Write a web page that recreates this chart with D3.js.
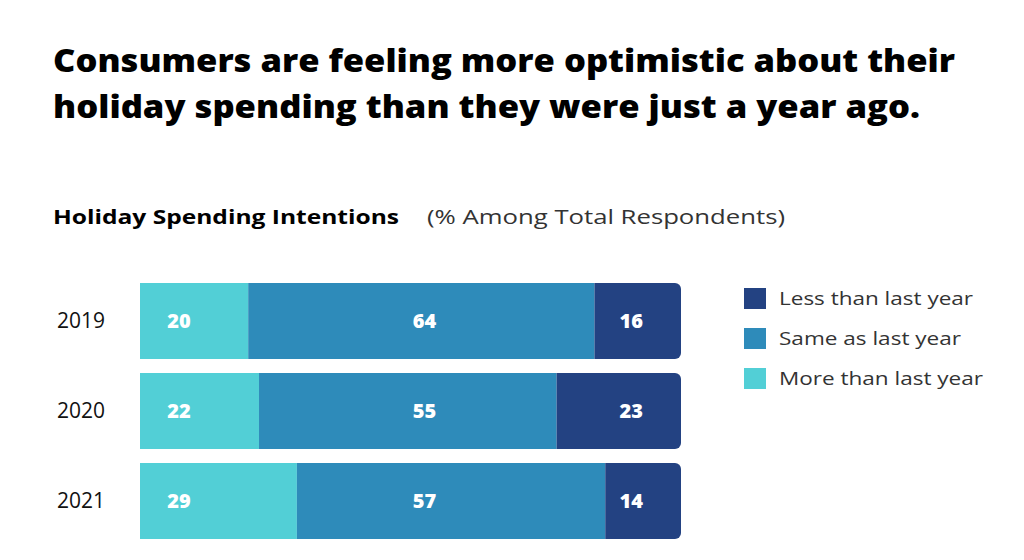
<!DOCTYPE html>
<html><head><meta charset="utf-8">
<script src="https://cdn.jsdelivr.net/npm/d3@7"></script>
<style>body{margin:0;background:#fff}text{font-family:"Open Sans",Lato,sans-serif}</style>
</head><body><svg id="c" width="1024" height="560"></svg>
<script>
const years = ["2019","2020","2021"];
const seriesNames = ["More than last year","Same as last year","Less than last year"];
const more = [20,22,29];
const same = [64,55,57];
const less = [16,23,14];
const colors = ["#52CFD6","#2E8BBA","#234282"];
const labelPos = [7.2,52.6,90.8]; // label column positions, % of axis

const svg = d3.select("#c");
function t(xp,yp,size,weight,str,len,fill){
  const e=svg.append("text").attr("x",xp).attr("y",yp).attr("font-size",size).attr("font-weight",weight).attr("fill",fill||"#000").text(str);
  if(len) e.attr("textLength",len).attr("lengthAdjust","spacingAndGlyphs");
  return e;
}
t(53,72,32,800,"Consumers are feeling more optimistic about their",902);
t(53,118,32,800,"holiday spending than they were just a year ago.",867);
t(53,224,20,700,"Holiday Spending Intentions",346);
t(427,224,20,400,"(% Among Total Respondents)",358,"#333");

const x = d3.scaleLinear().domain([0,100]).range([140,681]);
const y = d3.scaleBand().domain(years).range([283,539]).paddingInner(14/90).paddingOuter(0);
const defs = svg.append("defs");
years.forEach((yr,i)=>{
  defs.append("clipPath").attr("id","cl"+i).append("rect")
    .attr("x",x(0)-10).attr("y",y(yr)).attr("width",x(100)-x(0)+10).attr("height",y.bandwidth()).attr("rx",6);
  const vals=[more[i],same[i],less[i]];
  let acc=0;
  const g=svg.append("g").attr("clip-path",`url(#cl${i})`);
  vals.forEach((v,j)=>{
    g.append("rect").attr("x",x(acc)).attr("y",y(yr)).attr("width",x(acc+v)-x(acc)).attr("height",y.bandwidth()).attr("fill",colors[j]);
    svg.append("text").attr("x",x(labelPos[j])).attr("y",y(yr)+y.bandwidth()/2+7).attr("text-anchor","middle")
      .attr("font-size",20).attr("font-weight",800).attr("fill","#fff").text(v);
    acc+=v;
  });
  svg.append("text").attr("x",57).attr("y",y(yr)+y.bandwidth()/2+7).attr("font-size",21).attr("fill","#111").text(yr);
});
const legendOrder=[2,1,0];
const legendLen=[194,182,204];
legendOrder.forEach((j,k)=>{
  svg.append("rect").attr("x",744).attr("y",288+k*40).attr("width",22).attr("height",21).attr("fill",colors[j]);
  svg.append("text").attr("x",779).attr("y",305+k*40).attr("font-size",19).attr("fill","#333")
    .attr("textLength",legendLen[k]).attr("lengthAdjust","spacingAndGlyphs").text(seriesNames[j]);
});
</script></body></html>
